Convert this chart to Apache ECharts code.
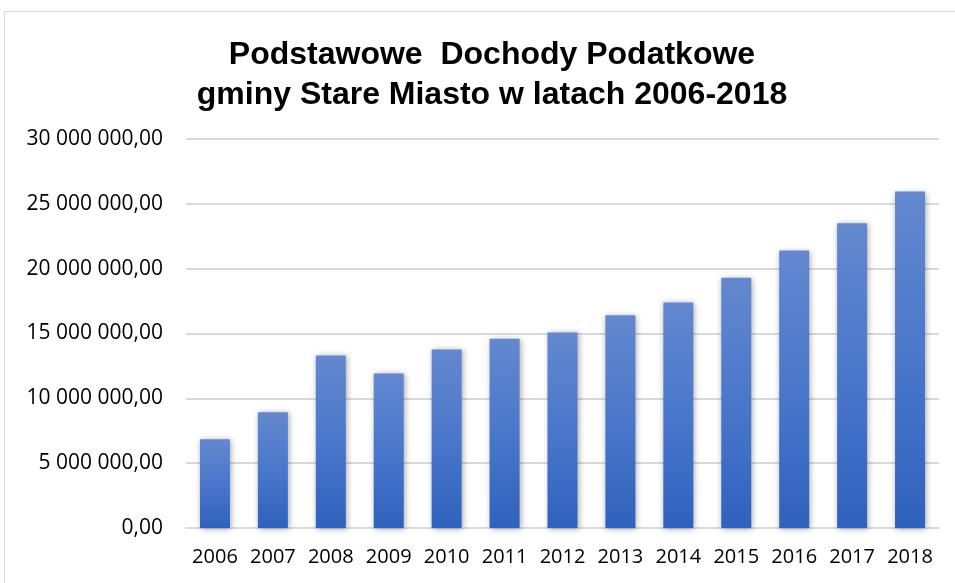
<!DOCTYPE html>
<html><head><meta charset="utf-8">
<script src="https://cdn.jsdelivr.net/npm/echarts@6/dist/echarts.min.js"></script>
<style>html,body{margin:0;padding:0;background:#fff}#c{width:955px;height:583px}
#frame{position:absolute;left:4px;top:11px;width:960px;height:600px;border:1px solid #d9d9d9;box-sizing:border-box;pointer-events:none}</style>
</head><body><div id="c"></div><div id="frame"></div>
<script>
const titleLines = ['Podstawowe  Dochody Podatkowe', 'gminy Stare Miasto w latach 2006-2018'];
const years = ['2006','2007','2008','2009','2010','2011','2012','2013','2014','2015','2016','2017','2018'];
const values = [6850000, 8920000, 13310000, 11920000, 13770000, 14600000, 15080000, 16400000, 17400000, 19300000, 21400000, 23500000, 25950000];
const yTicks = [0, 5000000, 10000000, 15000000, 20000000, 25000000, 30000000];

function fmt(v){
  const s = Math.round(v).toString().replace(/\B(?=(\d{3})+(?!\d))/g, ' ');
  return s + ',00';
}
const chart = echarts.init(document.getElementById('c'));
chart.setOption({
  animation:false,
  title:{
    text: titleLines.join('\n'),
    left: 487, top: 30, textAlign:'center',
    textStyle:{fontFamily:'Liberation Sans, Arial', fontWeight:'bold', fontSize:32, lineHeight:40, color:'#000'}
  },
  grid:{left:186, right:16, top:139, bottom:55},
  xAxis:{
    type:'category', data: years,
    axisLine:{show:true, lineStyle:{color:'#d9d9d9', width:2}},
    axisTick:{show:false},
    axisLabel:{interval:0, hideOverlap:false, fontFamily:'Open Sans, Noto Sans', fontSize:20, color:'#000', margin:19}
  },
  yAxis:{
    type:'value', min:yTicks[0], max:yTicks[yTicks.length-1], interval:5000000,
    axisLine:{show:false}, axisTick:{show:false},
    splitLine:{lineStyle:{color:'#d9d9d9', width:2}},
    axisLabel:{fontFamily:'Open Sans, Noto Sans', fontSize:21, color:'#000', margin:23, formatter:fmt}
  },
  series:[{
    type:'bar', data: values, barWidth:30,
    itemStyle:{
      color: new echarts.graphic.LinearGradient(0,0,0,1,[
        {offset:0, color:'#6388cf'},
        {offset:0.5, color:'#4a77cb'},
        {offset:1, color:'#2f62bd'}
      ]),
      shadowColor:'rgba(0,0,0,0.35)', shadowBlur:6, shadowOffsetX:1, shadowOffsetY:1
    }
  }]
});
</script></body></html>
